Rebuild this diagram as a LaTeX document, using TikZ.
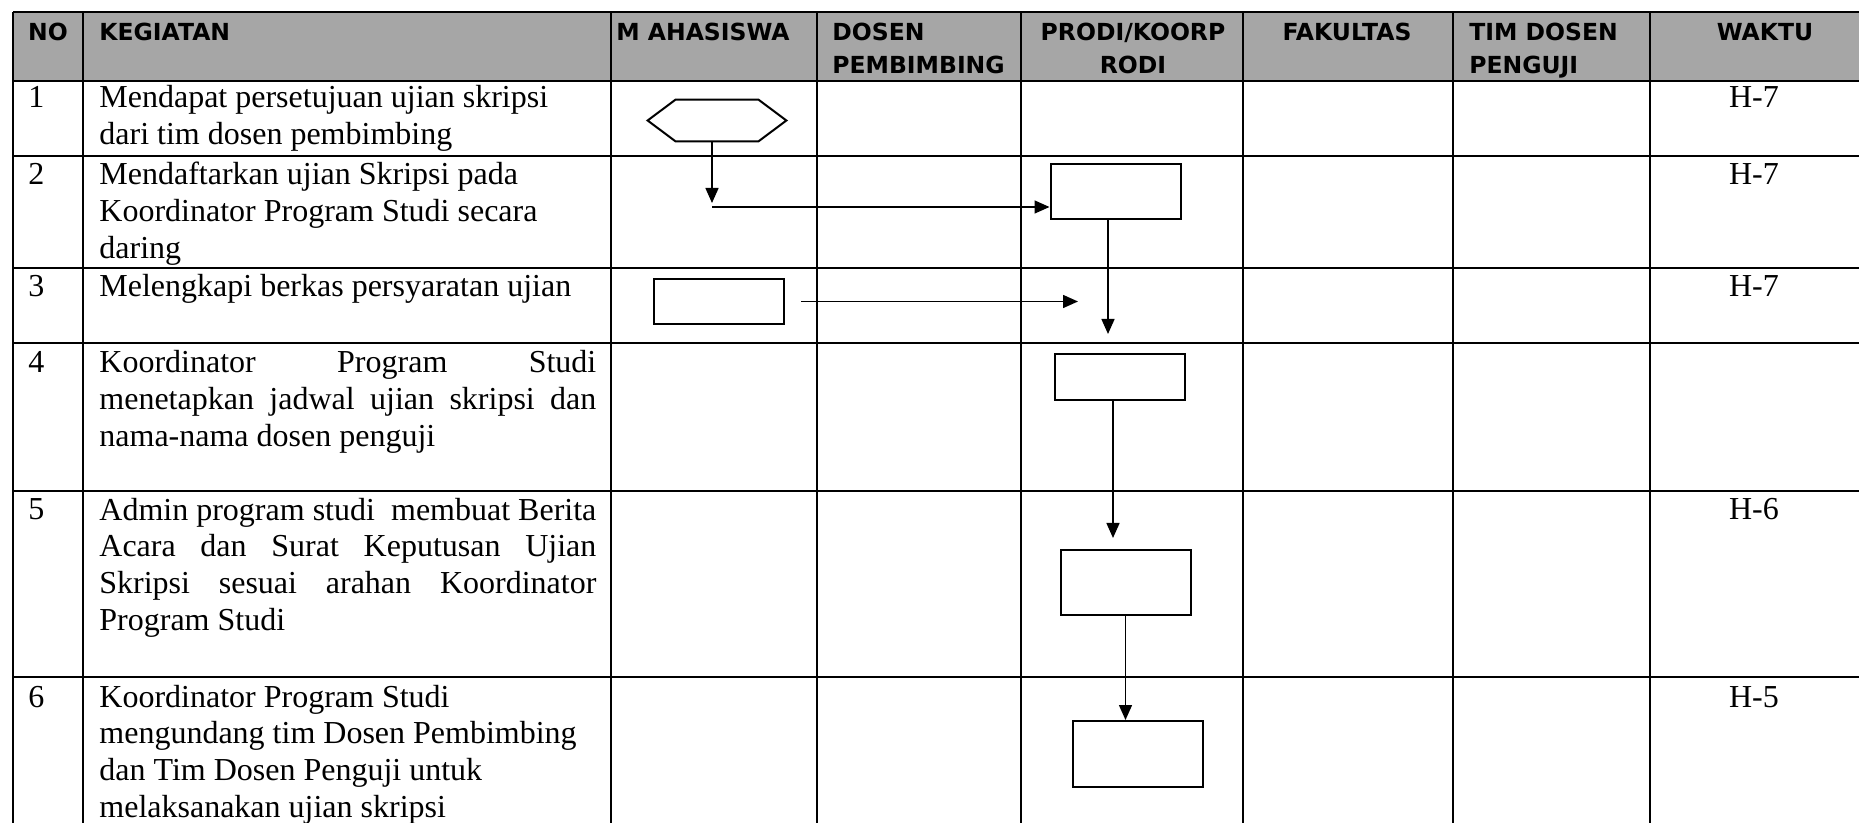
\documentclass[tikz,border=0pt]{standalone}
\usepackage{fontspec}
\setmainfont{Liberation Serif}
\newfontfamily\hdrfont{DejaVu Sans}
\usepackage{tikz}
\usetikzlibrary{arrows.meta}

\definecolor{hdrgray}{RGB}{166,166,166}
\newcommand\bodytext{\fontsize{16pt}{18.35pt}\selectfont}
\newcommand\hdrtext{\hdrfont\bfseries\fontsize{11.75pt}{16.5pt}\selectfont}
\newcommand\jline[1]{\makebox[248.5pt][s]{#1}}

\begin{document}
\begin{tikzpicture}[
    x=0.5pt, y=-0.5pt,
    font=\bodytext,
    hdr/.style={font=\hdrtext, inner sep=0pt, anchor=base},
    keg/.style={anchor=base west, align=left, inner sep=0pt},
    num/.style={anchor=base west, inner sep=0pt},
    wkt/.style={anchor=base, inner sep=0pt},
    proc/.style={draw, line width=1pt, minimum width=65pt, inner sep=0pt},
    hexa/.style={minimum width=69pt, minimum height=20.5pt, inner sep=0pt},
    flow/.style={-{Triangle[length=7.5pt, width=6.5pt]}, line width=0.75pt},
    rowline/.style={line width=1.35pt},
    colline/.style={line width=1pt}
  ]
    \useasboundingbox (0,0) rectangle (1859,823);

    % table
    \fill[hdrgray] (13,12) rectangle (1859,81);
    \draw[rowline] (13,12) -- (1859,12) (13,81) -- (1859,81)
      (13,156) -- (1859,156) (13,268) -- (1859,268) (13,343) -- (1859,343)
      (13,491) -- (1859,491) (13,677) -- (1859,677);
    \draw[colline] (13,12) -- (13,823) (83,12) -- (83,823) (611,12) -- (611,823)
      (817,12) -- (817,823) (1021,12) -- (1021,823) (1243,12) -- (1243,823)
      (1453,12) -- (1453,823) (1650,12) -- (1650,823);

    % header (two-line nodes sit on their last baseline)
    \node[hdr] (hno) at (48,41) {NO};
    \node[hdr, anchor=base west] (hkeg) at (99,41) {KEGIATAN};
    \node[hdr] (hmhs) at (703,41) {M AHASISWA};
    \node[hdr, anchor=base west, align=left] (hdos) at (832,74) {DOSEN\\PEMBIMBING};
    \node[hdr, align=center] (hprd) at (1133,74) {PRODI/KOORP\\RODI};
    \node[hdr] (hfak) at (1347,41) {FAKULTAS};
    \node[hdr, anchor=base west, align=left] (htim) at (1469,74) {TIM DOSEN\\PENGUJI};
    \node[hdr] (hwkt) at (1765,41) {WAKTU};

    % rows
    \node[num] (n1) at (28,108) {1};
    \node[keg] (k1) at (99,144.7) {Mendapat persetujuan ujian skripsi\\dari tim dosen pembimbing};
    \node[wkt] (w1) at (1754,108) {H-7};

    \node[num] (n2) at (28,185) {2};
    \node[keg] (k2) at (99,258.4) {Mendaftarkan ujian Skripsi pada\\Koordinator Program Studi secara\\daring};
    \node[wkt] (w2) at (1754,185) {H-7};

    \node[num] (n3) at (28,297) {3};
    \node[keg] (k3) at (99,297) {Melengkapi berkas persyaratan ujian};
    \node[wkt] (w3) at (1754,297) {H-7};

    \node[num] (n4) at (28,373) {4};
    \node[keg] (k4) at (99,446.4) {\jline{Koordinator Program Studi}\\
      \jline{menetapkan jadwal ujian skripsi dan}\\nama-nama dosen penguji};

    \node[num] (n5) at (28,520) {5};
    \node[keg] (k5) at (99,630.1) {\jline{Admin program studi~ membuat Berita}\\
      \jline{Acara dan Surat Keputusan Ujian}\\
      \jline{Skripsi sesuai arahan Koordinator}\\Program Studi};
    \node[wkt] (w5) at (1754,520) {H-6};

    \node[num] (n6) at (28,707) {6};
    \node[keg] (k6) at (99,817.1) {Koordinator Program Studi\\mengundang tim Dosen Pembimbing\\
      dan Tim Dosen Penguji untuk\\melaksanakan ujian skripsi};
    \node[wkt] (w6) at (1754,707) {H-5};

    % flow shapes
    \node[hexa] (hex) at (717,120.5) {};
    \draw[line width=1pt] (hex.west) -- ([xshift=14pt]hex.north west)
      -- ([xshift=-14pt]hex.north east) -- (hex.east)
      -- ([xshift=-14pt]hex.south east) -- ([xshift=14pt]hex.south west) -- cycle;
    \node[proc, minimum height=27.5pt] (box2) at (1115.5,191.5) {};
    \node[proc, minimum height=22.5pt] (box3) at (719,301.5) {};
    \node[proc, minimum height=23pt]   (box4) at (1120,377) {};
    \node[proc, minimum height=32.5pt] (box5) at (1125.5,582.5) {};
    \node[proc, minimum height=33pt]   (box6) at (1137.5,754) {};

    \coordinate (c1) at (712,203);
    \coordinate (c2) at (1108,334);
    \coordinate (c3) at (1078,303);
    \coordinate (c4) at (1113,538);

    \draw[flow] (hex.south -| c1) -- (c1);
    \draw[flow] ([yshift=-2pt]c1) -- ([yshift=-2pt]c1 -| box2.west);
    \draw[flow] (c2 |- box2.south) -- (c2);
    \draw[flow, shorten <=8pt] (box3.east) -- (box3.east -| c3);
    \draw[flow] (c4 |- box4.south) -- (c4);
    \draw[flow] (box5.south) -- (box5.south |- box6.north);
  \end{tikzpicture}
\end{document}
